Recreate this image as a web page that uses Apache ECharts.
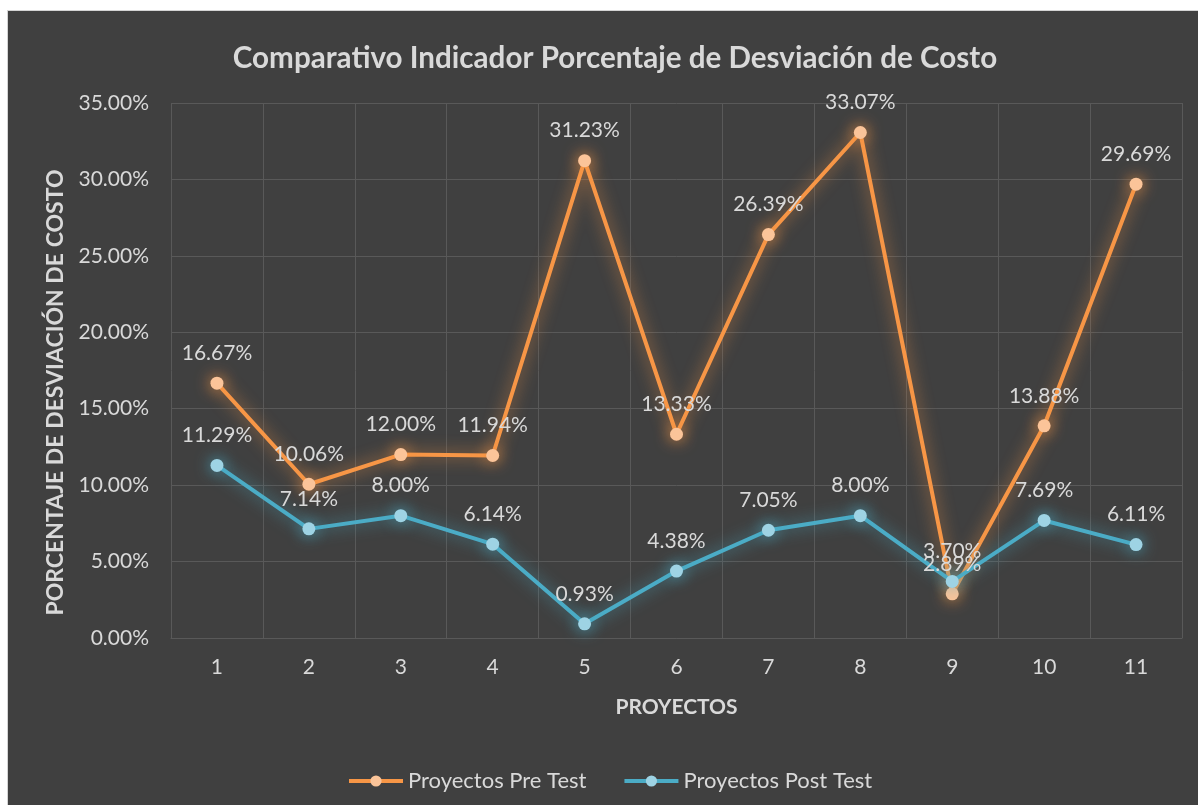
<!DOCTYPE html>
<html>
<head>
<meta charset="utf-8">
<script src="https://cdn.jsdelivr.net/npm/echarts@6/dist/echarts.min.js"></script>
<style>
  body { margin: 0; background: #fff; }
  .frame { position: absolute; left: 7px; top: 10px; width: 1191px; height: 795px; background: #d4d4d4; }
  #chart { position: absolute; left: 8px; top: 11px; width: 1190px; height: 794px; background: #404040; }
</style>
</head>
<body>
<div class="frame"></div>
<div id="chart"></div>
<script>
// datos del gráfico
const proyectos = ["1", "2", "3", "4", "5", "6", "7", "8", "9", "10", "11"];
const preTest = [16.67, 10.06, 12.0, 11.94, 31.23, 13.33, 26.39, 33.07, 2.89, 13.88, 29.69];
const postTest = [11.29, 7.14, 8.0, 6.14, 0.93, 4.38, 7.05, 8.0, 3.7, 7.69, 6.11];

const chart = echarts.init(document.getElementById("chart"));
const font = "Lato";
const txt = "#d9d9d9";
const pct = (v) => Number(v).toFixed(2) + "%";

const option = {
  textStyle: { fontFamily: font },
  title: {
    text: "Comparativo Indicador Porcentaje de Desviación de Costo",
    left: 602,
    textAlign: "center",
    top: 27,
    textStyle: { color: txt, fontSize: 29.6, fontWeight: "bold", fontFamily: font },
  },
  grid: { left: 163, right: 16, top: 92, bottom: 167 },
  legend: {
    left: 334,
    top: 754,
    itemWidth: 54,
    itemHeight: 14,
    itemGap: 36,
    lineStyle: { width: 4 },
    textStyle: { color: txt, fontSize: 22, fontFamily: font },
    data: ["Proyectos Pre Test", "Proyectos Post Test"],
  },
  xAxis: {
    type: "category",
    data: proyectos,
    name: "PROYECTOS",
    nameLocation: "middle",
    nameGap: 59,
    nameTextStyle: { color: txt, fontSize: 21, fontWeight: "bold" },
    axisTick: { show: false },
    axisLine: { show: true, lineStyle: { color: "#595959", width: 1 } },
    axisLabel: { color: txt, fontSize: 21, margin: 19 },
    splitLine: { show: true, lineStyle: { color: "#595959", width: 1 } },
  },
  yAxis: {
    type: "value",
    min: 0,
    max: 35,
    interval: 5,
    name: "PORCENTAJE DE DESVIACIÓN DE COSTO",
    nameLocation: "middle",
    nameGap: 104,
    nameTextStyle: { color: txt, fontSize: 23, fontWeight: "bold", padding: [0, 44, 0, 0] },
    axisLine: { show: false },
    axisTick: { show: false },
    axisLabel: { color: txt, fontSize: 21, margin: 22, formatter: pct },
    splitLine: { lineStyle: { color: "#595959", width: 1 } },
  },
  series: [
    {
      name: "Proyectos Pre Test",
      type: "line",
      data: preTest,
      symbol: "circle",
      symbolSize: 13,
      lineStyle: { color: "#f79646", width: 4, shadowBlur: 16, shadowColor: "rgba(247,150,70,0.8)" },
      itemStyle: { color: "#fbc499", shadowBlur: 16, shadowColor: "rgba(247,150,70,0.95)" },
      label: { show: true, position: "top", distance: 13, color: txt, fontSize: 21, formatter: (p) => pct(p.value) },
      animation: false,
    },
    {
      name: "Proyectos Post Test",
      type: "line",
      data: postTest,
      symbol: "circle",
      symbolSize: 13,
      lineStyle: { color: "#4bacc6", width: 4, shadowBlur: 16, shadowColor: "rgba(75,172,198,0.8)" },
      itemStyle: { color: "#9ed3e4", shadowBlur: 16, shadowColor: "rgba(75,172,198,0.95)" },
      label: { show: true, position: "top", distance: 13, color: txt, fontSize: 21, formatter: (p) => pct(p.value) },
      animation: false,
    },
  ],
};

chart.setOption(option);
window.addEventListener("resize", () => chart.resize());
</script>
</body>
</html>
